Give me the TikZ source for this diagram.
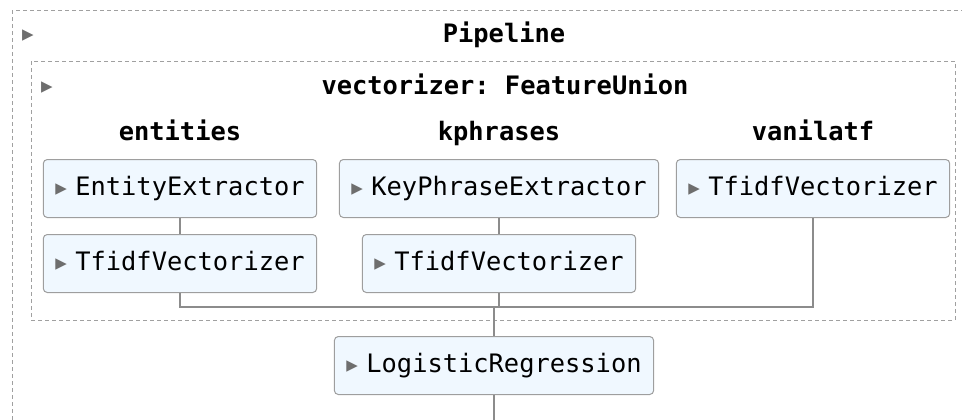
\documentclass[tikz,border=0pt]{standalone}
\usepackage{fontspec}
\setmonofont{DejaVu Sans Mono}
\newfontfamily\symfont{DejaVu Sans}
\usetikzlibrary{positioning}

\definecolor{boxfill}{HTML}{F0F8FF}
\definecolor{boxline}{HTML}{9E9E9E}
\definecolor{dashline}{HTML}{A0A0A0}
\definecolor{wirecol}{HTML}{8C8C8C}
\definecolor{trigray}{HTML}{6E6E6E}

% small gray toggle triangle in front of every name
\newcommand{\trig}{\textcolor{trigray}{\symfont\fontsize{11.5}{11.5}\selectfont ▸}}
\newcommand{\tog}{\makebox[10pt][l]{\trig}}

\begin{document}
\begin{tikzpicture}[x=0.5pt,y=-0.5pt,font=\ttfamily\fontsize{12.7}{15}\selectfont]
	\tikzstyle{est}=[draw=boxline, fill=boxfill, rounded corners=2pt, line width=0.5pt, inner xsep=6pt, minimum height=29pt, text height=1.95ex, text depth=.3ex]
	\tikzstyle{group}=[draw=dashline, dash pattern=on 2pt off 1.5pt, line width=0.5pt]
	\tikzstyle{head}=[font=\ttfamily\bfseries\fontsize{12.7}{15}\selectfont, inner sep=0pt, text height=1.95ex, text depth=.3ex]
	\tikzstyle{wire}=[draw=wirecol, line width=0.75pt]
	\clip (0,0) rectangle (962,419);

	% dashed containers
	\draw[group] (12,10) rectangle (1000,440);
	\draw[group] (31,61) rectangle (955,320);

	\node[inner sep=0pt] (pipetog) at (28,36) {\trig};
	\node[head] (pipe) at (504,35) {Pipeline};
	\node[inner sep=0pt] (futog) at (47,88) {\trig};
	\node[head] (fu) at (505,87) {vectorizer: FeatureUnion};

	\node[head] (entities) at (180,133) {entities};
	\node[head] (kphrases) at (499,133) {kphrases};
	\node[head] (vanilatf) at (813,133) {vanilatf};

	\node[est] (ent) at (180,188.5) {\tog EntityExtractor};
	\node[est] (kp) at (499,188.5) {\tog KeyPhraseExtractor};
	\node[est] (vtf) at (813,188.5) {\tog TfidfVectorizer};
	\node[est, below=8pt of ent] (enttf) {\tog TfidfVectorizer};
	\node[est, below=8pt of kp] (kptf) {\tog TfidfVectorizer};

	\coordinate (join) at (494,307);
	\node[est] (logreg) at (494,365.5) {\tog LogisticRegression};
	\coordinate (out) at (494,430);

	\path[wire]
		(ent) -- (enttf)
		(kp) -- (kptf)
		(enttf.south) |- (join -| vtf.south) -- (vtf.south)
		(kptf.south) -- (kptf.south |- join)
		(join) -- (logreg.north)
		(logreg.south) -- (out);
\end{tikzpicture}
\end{document}
